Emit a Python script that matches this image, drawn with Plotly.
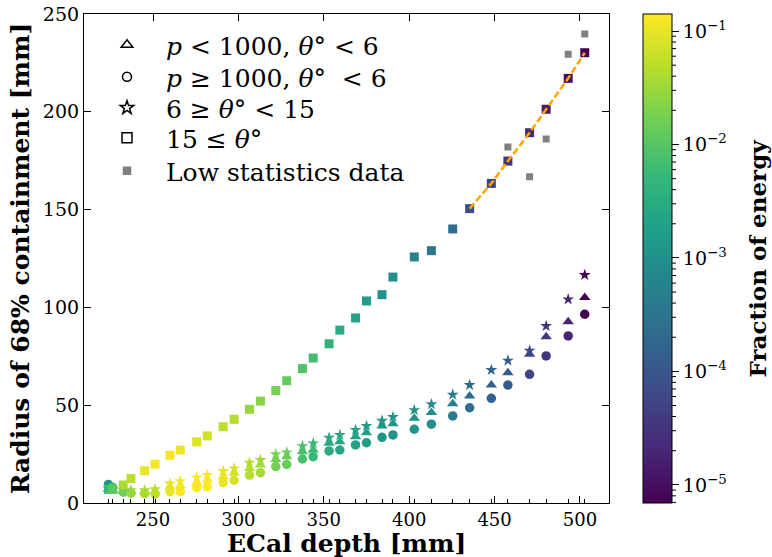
import math
import plotly.graph_objects as go

# ECal layer depths [mm]
depth = [223.9, 226.4, 232.6, 237.1, 245.1, 251.2, 259.9, 266.0, 275.6, 281.8,
         291.1, 297.5, 306.5, 312.9, 321.9, 328.3, 337.5, 343.8, 353.1, 359.4,
         368.6, 375.0, 384.1, 390.5, 403.0, 413.0, 425.5, 435.4, 448.1, 457.8,
         470.5, 480.2, 493.1, 502.8]

# Radius of 68% containment [mm]
r_tri = [7.0, 6.5, 6.0, 6.0, 5.8, 6.0, 8.3, 8.7, 10.4, 11.8,
         13.4, 15.2, 17.7, 19.4, 22.3, 23.7, 26.2, 27.1, 30.5, 31.3,
         33.9, 35.9, 39.4, 40.5, 43.3, 46.3, 50.8, 54.7, 60.3, 66.6,
         76.0, 85.0, 92.7, 105.0]
r_circ = [9.5, 8.0, 5.5, 5.0, 4.8, 4.6, 5.8, 5.8, 7.8, 8.3,
          10.4, 11.6, 14.3, 15.5, 18.6, 19.8, 22.5, 23.7, 26.6, 27.1,
          29.7, 30.8, 33.6, 34.8, 37.7, 40.3, 44.5, 48.7, 53.5, 60.3,
          65.8, 75.2, 85.4, 96.5]
r_star = [7.5, 7.0, 6.5, 6.5, 6.5, 7.0, 10.0, 11.2, 13.1, 14.3,
          16.4, 17.7, 20.6, 22.0, 24.9, 25.9, 29.1, 30.5, 33.4, 34.8,
          37.3, 39.4, 42.1, 44.0, 47.5, 50.5, 55.4, 60.3, 68.0, 72.8,
          77.9, 90.5, 104.1, 116.6]
r_square = [7.0, 7.0, 9.2, 12.5, 16.5, 19.9, 24.4, 27.1, 31.3, 34.3,
            39.0, 42.8, 47.9, 52.1, 57.5, 62.5, 68.7, 74.1, 81.4, 88.4,
            94.6, 103.3, 106.5, 115.5, 125.8, 129.0, 140.1, 150.5, 163.4, 174.8,
            189.3, 201.3, 217.1, 230.2]

# log10(fraction of energy) per layer
logE_low = [-2.92, -2.14, -1.80, -1.54, -1.41, -1.28, -0.98, -0.89, -0.86, -0.86,
            -0.98, -1.11, -1.32, -1.45, -1.76, -1.84, -2.10, -2.27, -2.53, -2.62,
            -2.70, -2.79, -2.88, -2.92, -2.95, -3.05, -3.35, -3.65, -3.78, -3.91,
            -4.21, -4.47, -4.73, -5.16]
logE_square = [-2.23, -1.93, -1.41, -1.28, -0.98, -0.90, -0.88, -0.95, -1.07, -1.15,
               -1.28, -1.35, -1.54, -1.63, -1.76, -1.88, -2.06, -2.19, -2.36, -2.49,
               -2.66, -2.79, -2.92, -3.05, -3.22, -3.44, -3.65, -4.13, -4.30, -4.51,
               -4.64, -4.86, -4.99, -5.16]

# Low statistics data
low_depth = [457.8, 470.5, 480.2, 493.1, 502.8]
low_r = [182.0, 166.8, 186.1, 229.4, 239.8]

fit_start = 27  # index of first layer in the fitted (dashed) segment

legend_labels = [
    "<i>p</i> &lt; 1000, <i>θ</i>° &lt; 6",
    "<i>p</i> ≥ 1000, <i>θ</i>°  &lt; 6",
    "6 ≥ <i>θ</i>° &lt; 15",
    "15 ≤ <i>θ</i>°",
    "Low statistics data",
]

CMIN, CMAX = -5.16, -0.85
FONT = "DejaVu Serif"

# plot-area geometry in pixels (for placing legends / titles)
L, R, T, B = 84, 163, 14, 54
W, H = 772, 557
PW, PH = W - L - R, H - T - B
CB_LEFT, CB_THICK = 643, 29

fig = go.Figure()

sup = {-5: "−5", -4: "−4", -3: "−3", -2: "−2", -1: "−1"}
major_vals = [-5, -4, -3, -2, -1]
minor_vals = [n + math.log10(k) for n in range(-6, 0) for k in range(2, 10)
              if CMIN <= n + math.log10(k) <= CMAX]

def scatter(y, c, symbol, size, cbar=False):
    marker = dict(color=c, colorscale="Viridis", cmin=CMIN, cmax=CMAX,
                  symbol=symbol, size=size, line=dict(width=0))
    if cbar:
        marker["showscale"] = True
        marker["colorbar"] = dict(
            x=(CB_LEFT - L) / PW, xanchor="left", xpad=0, ypad=0, y=0.5,
            yanchor="middle", len=1, lenmode="fraction", thickness=CB_THICK,
            outlinewidth=1, outlinecolor="black",
            tickmode="array", tickvals=major_vals,
            ticktext=[f"10<sup>{sup[n]}</sup>" for n in major_vals],
            ticks="outside", ticklen=7, tickcolor="black",
            tickfont=dict(family=FONT, size=19, color="black"),
        )
    fig.add_trace(go.Scatter(x=depth, y=y, mode="markers", marker=marker,
                             showlegend=False, hoverinfo="skip"))

scatter(r_tri, logE_low, "triangle-up", 10)
scatter(r_circ, logE_low, "circle", 9.5)
scatter(r_star, logE_low, "star", 9)
scatter(r_square, logE_square, "square", 9, cbar=True)

fig.add_trace(go.Scatter(x=low_depth, y=low_r, mode="markers",
                         marker=dict(color="#808080", symbol="square", size=7),
                         showlegend=False, hoverinfo="skip"))

fig.add_trace(go.Scatter(x=depth[fit_start:], y=r_square[fit_start:], mode="lines",
                         line=dict(color="orange", width=2.5, dash="7px,3px"),
                         showlegend=False, hoverinfo="skip"))

# legend entries, one small legend per row
legend_syms = [("triangle-up-open", 10, "black"), ("circle-open", 9, "black"),
               ("star-open", 10, "black"), ("square-open", 10, "black"),
               ("square", 7, "#808080")]
row_px = [45, 77, 108, 138, 171]
legend_layouts = {}
for i, (name, (sym, sz, col), ypx) in enumerate(zip(legend_labels, legend_syms, row_px)):
    key = "legend" if i == 0 else f"legend{i + 1}"
    fig.add_trace(go.Scatter(x=[None], y=[None], mode="markers", name=name,
                             legend=key,
                             marker=dict(symbol=sym, size=sz, color=col,
                                         line=dict(width=1.5, color=col))))
    legend_layouts[key] = dict(
        x=(88 - L) / PW, xanchor="left", y=1 - (ypx - T) / PH, yanchor="middle",
        bgcolor="rgba(0,0,0,0)", borderwidth=0, itemwidth=68,
        font=dict(family=FONT, size=25, color="black"))

# invisible trace to hold the layer-position tick axis
fig.add_trace(go.Scatter(x=[None], y=[None], xaxis="x2", showlegend=False,
                         hoverinfo="skip"))

# minor (log) ticks on the colour bar
cb_right = (CB_LEFT + CB_THICK - L) / PW
shapes = [dict(type="line", xref="paper", yref="paper",
               x0=cb_right, x1=cb_right + 4 / PW,
               y0=(v - CMIN) / (CMAX - CMIN), y1=(v - CMIN) / (CMAX - CMIN),
               line=dict(color="black", width=1))
          for v in minor_vals]

axis_common = dict(showline=True, linecolor="black", linewidth=1.2, mirror="ticks",
                   ticks="inside", ticklen=7, tickwidth=1, tickcolor="black",
                   showgrid=False, zeroline=False, automargin=False)

fig.update_layout(
    width=W, height=H,
    margin=dict(l=L, r=R, t=T, b=B, autoexpand=False),
    paper_bgcolor="white", plot_bgcolor="white",
    xaxis=dict(range=[209.6, 517], tickvals=[250, 300, 350, 400, 450, 500],
               ticklabelstandoff=0,
               tickfont=dict(family=FONT, size=18, color="black"),
               **axis_common),
    xaxis2=dict(overlaying="x", matches="x", side="bottom", showline=False,
                showgrid=False, zeroline=False, ticks="inside", ticklen=4,
                tickcolor="black", tickvals=depth, showticklabels=False,
                automargin=False, range=[209.6, 517]),
    yaxis=dict(range=[0, 250], tickvals=[0, 50, 100, 150, 200, 250],
               tickfont=dict(family=FONT, size=19, color="black"),
               title=dict(text="<b>Radius of 68% containment [mm]</b>", standoff=6,
                          font=dict(family=FONT, size=25, color="black")),
               **axis_common),
    showlegend=True,
    shapes=shapes,
    annotations=[
        dict(text="<b>Fraction of energy</b>", textangle=-90,
             xref="paper", yref="paper", x=(757 - L) / PW, y=0.5,
             xanchor="center", yanchor="middle", showarrow=False,
             font=dict(family=FONT, size=23, color="black")),
        dict(text="<b>ECal depth [mm]</b>",
             xref="paper", yref="paper", x=0.5, y=1 - (543 - T) / PH,
             xanchor="center", yanchor="middle", showarrow=False,
             font=dict(family=FONT, size=25, color="black")),
    ],
    **legend_layouts,
)

fig.write_html("out.html")
